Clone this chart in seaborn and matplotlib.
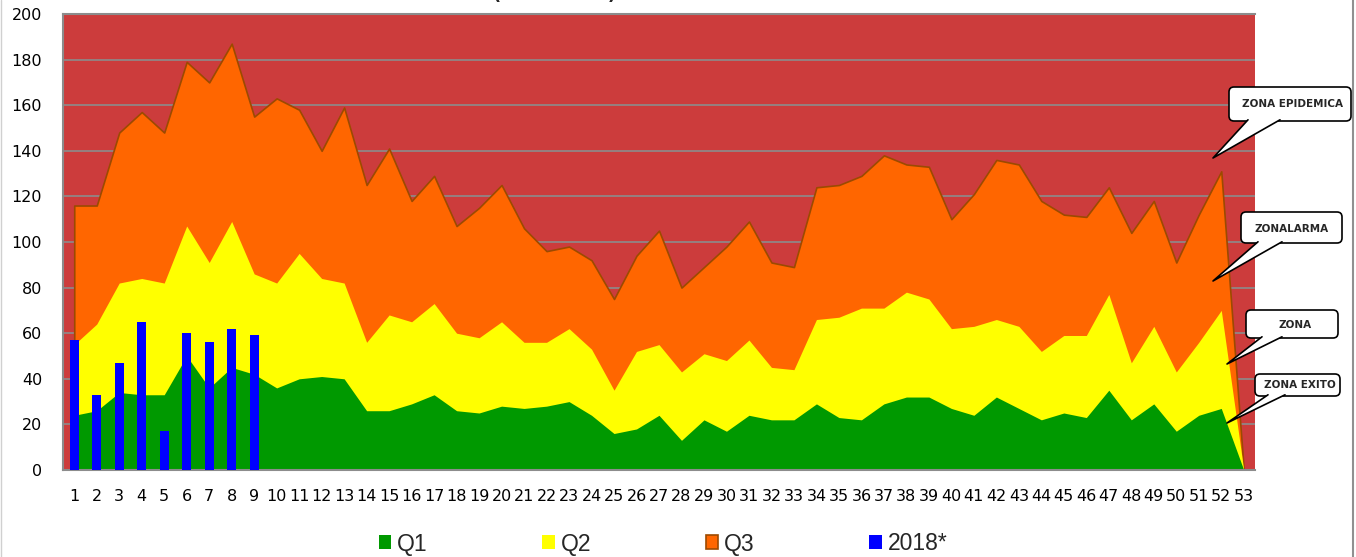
import matplotlib
matplotlib.use("Agg")
import matplotlib.pyplot as plt
from matplotlib.patches import FancyBboxPatch, Polygon, Patch
from matplotlib.lines import Line2D
from matplotlib.transforms import Affine2D
import seaborn as sns

sns.set_theme(style="white")
plt.rcParams["font.family"] = ["DejaVu Sans"]

weeks = list(range(1, 54))

q1 = [24, 26, 34, 33, 33, 50, 36, 45, 42, 36, 40, 41, 40, 26, 26, 29, 33, 26, 25, 28,
      27, 28, 30, 24, 16, 18, 24, 13, 22, 17, 24, 22, 22, 29, 23, 22, 29, 32, 32, 27,
      24, 32, 27, 22, 25, 23, 35, 22, 29, 17, 24, 27, 0]
q2 = [55, 64, 82, 84, 82, 107, 91, 109, 86, 82, 95, 84, 82, 56, 68, 65, 73, 60, 58, 65,
      56, 56, 62, 53, 35, 52, 55, 43, 51, 48, 57, 45, 44, 66, 67, 71, 71, 78, 75, 62,
      63, 66, 63, 52, 59, 59, 77, 47, 63, 43, 56, 70, 0]
q3 = [116, 116, 148, 157, 148, 179, 170, 187, 155, 163, 158, 140, 159, 125, 141, 118, 129, 107, 115, 125,
      106, 96, 98, 92, 75, 94, 105, 80, 89, 98, 109, 91, 89, 124, 125, 129, 138, 134, 133, 110,
      121, 136, 134, 118, 112, 111, 124, 104, 118, 91, 112, 131, 0]

weeks_2018 = [1, 2, 3, 4, 5, 6, 7, 8, 9]
cases_2018 = [57, 33, 47, 65, 17, 60, 56, 62, 59]

labels = ["Q1", "Q2", "Q3", "2018*"]
colors = ["#009900", "#FFFF00", "#FF6600", "#0000FF"]
q3_edge = "#9C4A00"

W, H = 1356, 557
fig = plt.figure(figsize=(W / 100, H / 100), dpi=100)
ax = fig.add_axes([63 / W, (H - 470) / H, (1255 - 63) / W, (470 - 14) / H])
ax.set_facecolor("#CC3C3C")

# zones, back to front
ax.fill_between(weeks, q3, color=colors[2], edgecolor=q3_edge, linewidth=1.2, zorder=2)
ax.fill_between(weeks, q2, color=colors[1], linewidth=0, zorder=2.1)
ax.fill_between(weeks, q1, color=colors[0], linewidth=0, zorder=2.2)

sns.barplot(x=weeks_2018, y=cases_2018, native_scale=True, width=0.4,
            color=colors[3], saturation=1, linewidth=0, ax=ax, zorder=4)

ax.set_xlim(0.5, 53.5)
ax.set_ylim(0, 200)
ax.set_yticks(range(0, 201, 20))
ax.set_xticks(weeks)
ax.set_xticklabels([str(w) for w in weeks])
ax.set_xlabel("")
ax.set_ylabel("")
ax.tick_params(axis="y", length=0, pad=15, labelsize=11.5, colors="black")
ax.tick_params(axis="x", length=0, pad=14, labelsize=11.5, colors="black")
ax.set_axisbelow(True)
ax.yaxis.grid(True, color="#8C8C8C", linewidth=1.2)
ax.xaxis.grid(False)
for side in ["left", "bottom", "top"]:
    ax.spines[side].set_color("#8C8C8C")
    ax.spines[side].set_linewidth(1.5)
    ax.spines[side].set_visible(True)
ax.spines["right"].set_visible(False)

# title, cut by the top edge as in the source image
fig.text(555 / W, 0.9995, "(2013-2017)", ha="center", va="baseline",
         fontsize=13, fontweight="bold")

# callouts (figure pixels, y from top)
px = Affine2D().scale(1 / W, 1 / H) + fig.transFigure


def callout(label, box, base, tip, text_xy):
    x0, y0, x1, y1 = box
    fig.add_artist(FancyBboxPatch((x0, H - y1), x1 - x0, y1 - y0,
                                  boxstyle="round,pad=0,rounding_size=5",
                                  fc="white", ec="black", lw=1.2,
                                  transform=px, zorder=6))
    pts = [(base[0], H - y1 + 1.2), (tip[0], H - tip[1]), (base[1], H - y1 + 1.2)]
    fig.add_artist(Polygon(pts, closed=True, fc="white", ec="none",
                           transform=px, zorder=6.1))
    fig.add_artist(Line2D([p[0] for p in pts], [p[1] for p in pts], color="black",
                          lw=1.2, transform=px, zorder=6.2))
    fig.text(text_xy[0] / W, 1 - text_xy[1] / H, label, ha="center", va="center",
             fontsize=7.5, fontweight="bold", zorder=7)


callout("ZONA EPIDEMICA", (1229, 87, 1351, 121), (1248, 1280), (1213, 158), (1292, 104))
callout("ZONALARMA", (1241, 212, 1342, 243), (1258, 1282), (1213, 281), (1292, 229))
callout("ZONA", (1246, 310, 1338, 338), (1262, 1282), (1227, 364), (1295, 325))
callout("ZONA EXITO", (1255, 374, 1340, 396), (1268, 1285), (1227, 423), (1300, 385))

# frame edges of the chart object
fig.add_artist(Line2D([1, 1], [0, H], color="#D0D0D0", lw=1, transform=px))
fig.add_artist(Line2D([1353, 1353], [0, H], color="#909090", lw=1.5, transform=px))

handles = [Patch(facecolor=colors[0], edgecolor="none"),
           Patch(facecolor=colors[1], edgecolor="none"),
           Patch(facecolor=colors[2], edgecolor=q3_edge, linewidth=1.2),
           Patch(facecolor=colors[3], edgecolor="none")]
fig.legend(handles, labels, loc="center", bbox_to_anchor=(663 / W, 13 / H), ncol=4,
           frameon=False, handlelength=0.55, handleheight=0.55, handletextpad=0.25,
           columnspacing=5.0, borderpad=0, prop={"family": "Liberation Sans", "size": 16.5})

fig.savefig("out.png", dpi=100)
